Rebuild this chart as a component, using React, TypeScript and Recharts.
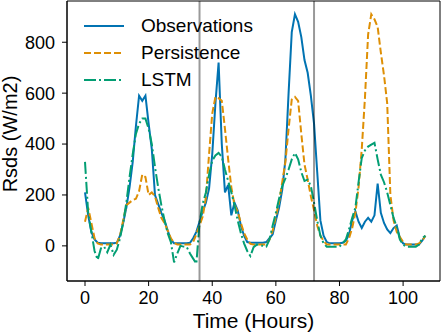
import React from "react";
import {
  LineChart,
  Line,
  XAxis,
  YAxis,
  Legend,
  ReferenceLine,
  ReferenceArea,
} from "recharts";

const hours = [
  0, 1, 2, 3, 4, 5, 6, 7, 8, 9, 10, 11, 12, 13, 14, 15, 16, 17, 18, 19, 20, 21,
  22, 23, 24, 25, 26, 27, 28, 29, 30, 31, 32, 33, 34, 35, 36, 37, 38, 39, 40,
  41, 42, 43, 44, 45, 46, 47, 48, 49, 50, 51, 52, 53, 54, 55, 56, 57, 58, 59,
  60, 61, 62, 63, 64, 65, 66, 67, 68, 69, 70, 71, 72, 73, 74, 75, 76, 77, 78,
  79, 80, 81, 82, 83, 84, 85, 86, 87, 88, 89, 90, 91, 92, 93, 94, 95, 96, 97,
  98, 99, 100, 101, 102, 103, 104, 105, 106, 107,
];

const observations = [
  210, 120, 55, 25, 12, 10, 10, 10, 10, 10,
  12, 40, 90, 150, 230, 330, 470, 590, 570, 590,
  480, 380, 200, 165, 130, 100, 60, 25, 10, 10,
  10, 10, 10, 12, 30, 55, 95, 135, 170, 225,
  360, 560, 720, 400, 210, 240, 120, 170, 140, 80,
  40, 15, 12, 12, 12, 12, 12, 15, 30, 45,
  100, 150, 220, 340, 600, 840, 910, 880, 820, 730,
  680, 590, 480, 290, 100, 40, 15, 10, 10, 10,
  10, 12, 20, 45, 100, 135, 95, 70, 95, 110,
  95, 120, 245, 130, 90, 65, 50, 70, 80, 30,
  10, 5, 5, 5, 5, 5, 20, 40,
];

const persistence = [
  95, 150, 90, 30, 10, 5, 5, 5, 5, 5,
  10, 40, 100, 160, 170, 180, 185, 215, 280, 270,
  200, 210, 195, 150, 110, 90, 60, 30, 12, 5,
  5, 5, 5, 5, 15, 45, 80, 115, 190, 360,
  520, 585, 580, 570, 460, 340, 230, 160, 135, 90,
  50, 25, 8, 5, 5, 5, 5, 5, 25, 60,
  115, 170, 250, 330, 460, 575, 585, 570, 440, 320,
  260, 195, 140, 80, 40, 20, 5, 5, 5, 5,
  5, 5, 5, 30, 70, 130, 230, 380, 580, 830,
  910, 890, 860, 760, 670, 560, 200, 100, 55, 35,
  15, 5, 5, 5, 5, 10, 20, 40,
];

const lstm = [
  330, 130, 55, -20, -55, -10, -3, -25, 5, -35,
  -15, 30, 90, 170, 270, 360, 440, 480, 500, 500,
  460, 400, 310, 230, 160, 100, 50, 15, -65, -30,
  0, -3, -5, -30, -50, -70, 90, 165, 210, 280,
  335, 355, 365, 350, 300, 255, 210, 160, 100, 50,
  10, -20, -40, -5, 5, 3, 0, -3, 25, 80,
  130, 185, 235, 265, 300, 340, 365, 340, 290, 255,
  260, 235, 170, 100, 40, 10, -3, -3, -3, -3,
  -3, 10, 25, 65, 110, 150, 250, 345, 375, 390,
  398, 405, 340, 280, 250, 210, 160, 110, 75, 25,
  5, -3, -3, -3, -3, 5, 30, 40,
];

const xTicks = [0, 20, 40, 60, 80, 100];
const yTicks = [0, 200, 400, 600, 800];
const splitHours = [36, 72];
const xDomain = [-5.66, 111.6];
const yDomain = [-138, 962];

const data = hours.map((h, i) => ({
  hour: h,
  obs: observations[i],
  pers: persistence[i],
  lstm: lstm[i],
}));

const FONT = '"Liberation Sans", Arial, sans-serif';
const BLUE = "#0173b2";
const ORANGE = "#de8f05";
const GREEN = "#029e73";

const series = [
  { key: "obs", name: "Observations", color: BLUE, dash: undefined },
  { key: "pers", name: "Persistence", color: ORANGE, dash: "7 3" },
  { key: "lstm", name: "LSTM", color: GREEN, dash: "12 3 2 3" },
];

function LegendBox() {
  return (
    <div style={{ fontFamily: FONT, fontSize: 19, color: "#000" }}>
      {series.map((s) => (
        <div key={s.key} style={{ display: "flex", alignItems: "center", height: 27 }}>
          <svg width={61} height={10}>
            <line x1={4} y1={5} x2={44} y2={5} stroke={s.color} strokeWidth={2} strokeDasharray={s.dash} />
          </svg>
          <span>{s.name}</span>
        </div>
      ))}
    </div>
  );
}

// rotated y label, a bit above the axis centre like the original
function YLabel(props: any) {
  const vb = props.viewBox;
  const cx = vb.x + 10;
  const cy = vb.y + vb.height / 2 - 7;
  return (
    <text
      x={cx}
      y={cy}
      transform={`rotate(-90, ${cx}, ${cy})`}
      textAnchor="middle"
      dominantBaseline="central"
      fontSize={20}
      fontFamily={FONT}
      fill="#000"
    >
      Rsds (W/m2)
    </text>
  );
}

export default function App() {
  const tick = { fill: "#000", fontSize: 18, fontFamily: FONT };
  return (
    <div style={{ position: "absolute", left: 0, top: 0, background: "#fff" }}>
      <LineChart width={444} height={334} data={data} margin={{ top: 1, right: 4, left: 0, bottom: 0 }}>
        <XAxis
          dataKey="hour"
          type="number"
          domain={xDomain}
          ticks={xTicks}
          tick={tick}
          tickSize={5}
          tickMargin={5}
          stroke="#000"
          height={53}
          allowDataOverflow
          label={{ value: "Time (Hours)", position: "insideBottom", offset: 6, fontSize: 21, fontFamily: FONT, fill: "#000" }}
        />
        <YAxis
          domain={yDomain}
          ticks={yTicks}
          tick={tick}
          tickSize={5}
          tickMargin={7}
          stroke="#000"
          width={67}
          allowDataOverflow
          label={<YLabel />}
        />
        <Legend
          layout="vertical"
          align="center"
          verticalAlign="middle"
          content={<LegendBox />}
          wrapperStyle={{ left: 80, top: 12, width: 200 }}
        />
        {series.map((s) => (
          <Line
            key={s.key}
            type="linear"
            dataKey={s.key}
            name={s.name}
            stroke={s.color}
            strokeWidth={2}
            strokeDasharray={s.dash}
            dot={false}
            activeDot={false}
            isAnimationActive={false}
          />
        ))}
        {splitHours.map((h) => (
          <ReferenceLine key={h} x={h} stroke="#000" strokeOpacity={0.4} strokeWidth={2} />
        ))}
        <ReferenceArea
          x1={xDomain[0]}
          x2={xDomain[1]}
          y1={yDomain[0]}
          y2={yDomain[1]}
          fill="none"
          fillOpacity={0}
          stroke="#000"
          strokeWidth={1}
          ifOverflow="visible"
        />
      </LineChart>
    </div>
  );
}
